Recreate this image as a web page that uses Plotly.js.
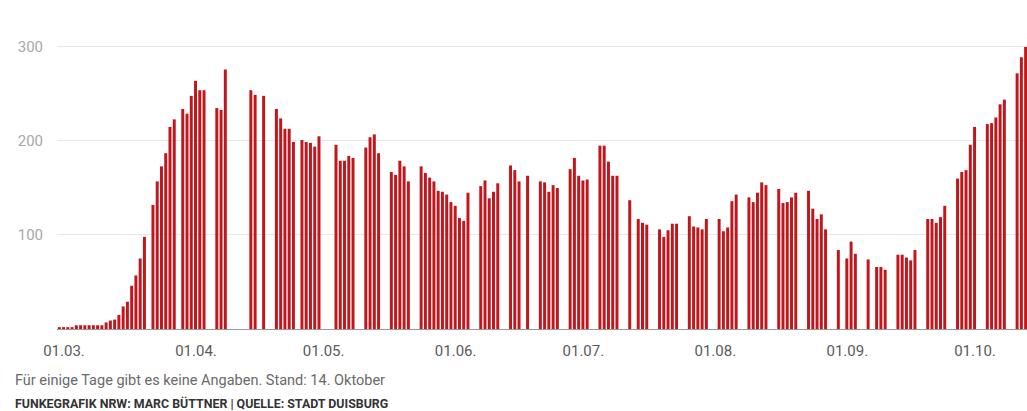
<!DOCTYPE html>
<html>
<head>
<meta charset="utf-8">
<script src="https://cdn.plot.ly/plotly-3.0.1.min.js"></script>
<style>
  html, body { margin: 0; padding: 0; background: #fff; }
  #chart { width: 1027px; height: 411px; }
</style>
</head>
<body>
<div id="chart"></div>
<script>
// Daily values (null = keine Angabe), one array per month of 2020
const march = [2,2,2,2,4,4,4,4,4,4,4,7,9,10,15,24,29,46,57,75,98,null,132,157,173,187,215,223,null,234,229];
const april = [248,264,254,254,null,null,235,233,276,null,null,null,null,null,254,249,null,248,null,null,234,224,213,213,199,null,201,199,198,194];
const may = [205,null,null,null,196,179,179,184,182,null,null,193,204,207,187,null,null,167,164,179,173,157,null,null,173,166,161,157,147,146,143];
const june = [135,131,118,115,145,null,null,152,158,139,146,155,null,null,174,169,157,null,163,null,null,157,156,146,153,150,null,null,170,182];
const july = [163,158,159,null,null,195,195,178,163,163,null,null,137,null,117,113,111,null,null,106,98,105,112,112,null,null,120,109,108,106,117];
const august = [null,null,117,104,108,136,143,null,null,140,135,145,156,153,null,null,149,134,135,140,145,null,null,147,128,117,122,106,null,null,84];
const september = [null,75,93,80,null,null,74,null,66,66,63,null,null,79,79,76,73,84,null,null,117,117,113,119,131,null,null,160,167,169];
const october = [196,215,null,null,218,219,225,239,244,null,null,272,289,300];

const months = [march, april, may, june, july, august, september, october];
const monthNumbers = [3, 4, 5, 6, 7, 8, 9, 10];
const tickLabels = ['01.03.', '01.04.', '01.05.', '01.06.', '01.07.', '01.08.', '01.09.', '01.10.'];
const yTickValues = [100, 200, 300];
const noteText = 'Für einige Tage gibt es keine Angaben. Stand: 14. Oktober';
const sourceText = 'FUNKEGRAFIK NRW: MARC BÜTTNER | QUELLE: STADT DUISBURG';

const pad = n => String(n).padStart(2, '0');
const DAY = 864e5;
const fmt = ms => new Date(ms).toISOString().slice(0, 19).replace('T', ' ');

const x = [], y = [];
months.forEach((vals, i) => {
  vals.forEach((v, j) => {
    x.push('2020-' + pad(monthNumbers[i]) + '-' + pad(j + 1));
    y.push(v);
  });
});

const start = Date.UTC(2020, 2, 1);
const tickvals = monthNumbers.map(m => fmt(Date.UTC(2020, m - 1, 1) + 1.1 * DAY));
const FONT = 'Liberation Sans Narrow, Roboto, sans-serif';

const trace = {
  type: 'bar',
  x: x,
  y: y,
  marker: { color: '#c2161d', line: { width: 0 } },
  hoverinfo: 'x+y'
};

const layout = {
  width: 1027,
  height: 411,
  margin: { l: 57, r: 0, t: 20, b: 82 },
  paper_bgcolor: '#ffffff',
  plot_bgcolor: '#ffffff',
  bargap: 0.3,
  showlegend: false,
  font: { family: FONT, color: '#666' },
  xaxis: {
    type: 'date',
    range: [fmt(start - 0.54 * DAY), fmt(start + 227.32 * DAY)],
    tickmode: 'array',
    tickvals: tickvals,
    ticktext: tickLabels,
    ticks: 'outside',
    ticklen: 8,
    tickcolor: 'rgba(0,0,0,0)',
    showgrid: false,
    zeroline: false,
    showline: true,
    linecolor: '#9a9a9a',
    linewidth: 1,
    tickfont: { size: 15, color: '#5a5a5a', family: FONT },
    fixedrange: true
  },
  yaxis: {
    range: [0, 328.7],
    tickmode: 'array',
    tickvals: yTickValues,
    ticktext: yTickValues.map(String),
    showgrid: true,
    gridcolor: '#e8e8e8',
    gridwidth: 1,
    zeroline: false,
    ticks: 'outside',
    ticklen: 10,
    tickcolor: 'rgba(0,0,0,0)',
    tickfont: { size: 15, color: '#a8a8a8', family: FONT },
    fixedrange: true
  },
  annotations: [
    {
      text: noteText,
      xref: 'paper', yref: 'paper',
      x: -44 / 970, y: (329 - 380) / 309,
      xanchor: 'left', yanchor: 'middle',
      showarrow: false,
      font: { size: 14.5, color: '#6a6a6a', family: FONT }
    },
    {
      text: '<b>' + sourceText + '</b>',
      xref: 'paper', yref: 'paper',
      x: -44 / 970, y: (329 - 404) / 309,
      xanchor: 'left', yanchor: 'middle',
      showarrow: false,
      font: { size: 12.4, color: '#333333', family: FONT }
    }
  ]
};

Plotly.newPlot('chart', [trace], layout, { staticPlot: true, displayModeBar: false });
</script>
</body>
</html>
